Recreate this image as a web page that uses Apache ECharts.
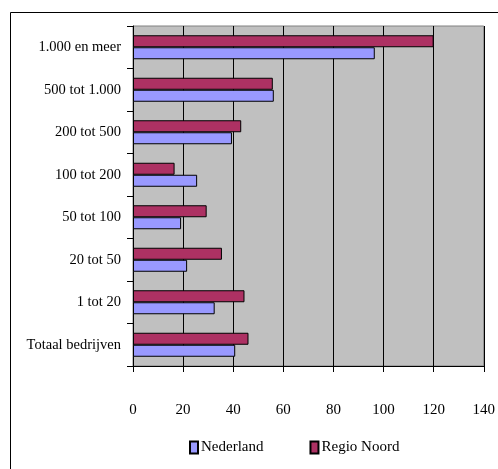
<!DOCTYPE html>
<html><head><meta charset="utf-8">
<script src="https://cdn.jsdelivr.net/npm/echarts@6/dist/echarts.min.js"></script>
<style>html,body{margin:0;padding:0;background:#fff}#c{width:498px;height:469px}</style>
</head><body><div id="c"></div>
<script>
const categories = ['Totaal bedrijven','1 tot 20','20 tot 50','50 tot 100','100 tot 200','200 tot 500','500 tot 1.000','1.000 en meer'];
const nederland = [40.8, 32.6, 21.6, 19.2, 25.6, 39.5, 56.2, 96.5];
const regioNoord = [46.1, 44.5, 35.5, 29.4, 16.6, 43.2, 55.8, 120];
const xTicks = [0, 20, 40, 60, 80, 100, 120, 140];

const font = 'Liberation Serif';
const chart = echarts.init(document.getElementById('c'), null, {renderer:'canvas'});
chart.setOption({
  animation: false,
  backgroundColor: '#fff',
  graphic: [{type:'rect', shape:{x:10.5, y:12.5, width:520, height:500}, style:{fill:null, stroke:'#000', lineWidth:1}, z:-1}],
  grid: {left:133, top:26, width:352, height:340, show:true, backgroundColor:'#C0C0C0', borderColor:'#808080', borderWidth:1},
  legend: {
    data:['Nederland','Regio Noord'], bottom: 9, left: 184,
    itemWidth: 8, itemHeight: 12, itemGap: 46,
    textStyle:{fontFamily:font, fontSize:15, color:'#000', padding:[0,0,0,-2]},
    icon: 'rect'
  },
  xAxis: {
    type:'value', min:xTicks[0], max:xTicks[xTicks.length-1], interval:20,
    axisLine:{show:true, lineStyle:{color:'#000', width:1}},
    axisTick:{show:true, length:6, lineStyle:{color:'#000'}},
    axisLabel:{fontFamily:font, fontSize:15, color:'#000', margin:37},
    splitLine:{show:true, lineStyle:{color:'#000', width:1}}
  },
  yAxis: {
    type:'category', data:categories,
    axisLine:{show:true, lineStyle:{color:'#000', width:1}},
    axisTick:{show:true, length:6, lineStyle:{color:'#000'}},
    axisLabel:{fontFamily:font, fontSize:14.5, color:'#000', margin:12},
    splitLine:{show:false}
  },
  series: [
    {name:'Regio Noord', type:'bar', data:regioNoord, barWidth:12, barGap:'0%',
     itemStyle:{color:'#AD3163', borderColor:'#000', borderWidth:1}},
    {name:'Nederland', type:'bar', data:nederland, barWidth:12, barGap:'0%',
     itemStyle:{color:'#9999FF', borderColor:'#000', borderWidth:1}}
  ]
});
</script></body></html>
